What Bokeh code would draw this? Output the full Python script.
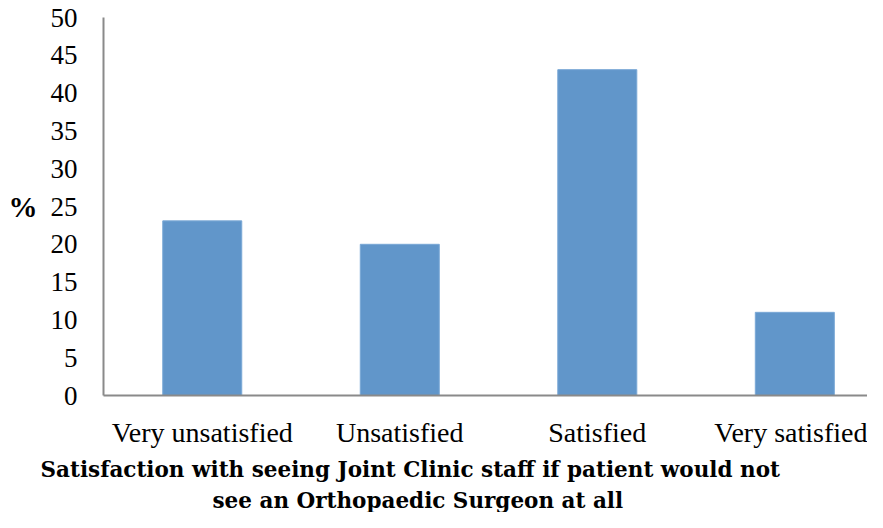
from bokeh.plotting import figure
from bokeh.models import Range1d, FixedTicker, ColumnDataSource, Title
from bokeh.embed import file_html
from bokeh.resources import INLINE

categories = ["Very unsatisfied", "Unsatisfied", "Satisfied", "Very satisfied"]
percent = [23.1, 20.0, 43.1, 11.0]
y_ticks = [0, 5, 10, 15, 20, 25, 30, 35, 40, 45, 50]
title_lines = ["Satisfaction with seeing Joint Clinic staff if patient would not",
               "see an Orthopaedic Surgeon at all"]
y_label = "%"

positions = [i + 0.5 for i in range(len(categories))]
src = ColumnDataSource(dict(x=positions, top=percent, cat=categories))

p = figure(width=867, height=512, output_backend="svg", toolbar_location=None,
           x_range=Range1d(0, 3.868), y_range=Range1d(0, 50),
           min_border_left=103, min_border_right=0, min_border_top=17, min_border_bottom=116)
p.outline_line_color = None
p.xgrid.visible = False
p.ygrid.visible = False

p.vbar(x="x", top="top", width=0.40, bottom=0, source=src,
       fill_color="#6196CA", line_color="#7AA8D6", line_width=1)

FONT = "Liberation Serif"
for ax in (p.xaxis[0], p.yaxis[0]):
    ax.axis_line_color = "#8A8A8A"
    ax.axis_line_width = 2
    ax.major_tick_line_color = None
    ax.minor_tick_line_color = None
    ax.major_label_text_font = FONT
    ax.major_label_text_color = "black"

p.xaxis[0].major_label_text_font_size = "28px"
p.yaxis[0].major_label_text_font_size = "27px"
p.xaxis[0].ticker = FixedTicker(ticks=positions)
p.xaxis[0].major_label_overrides = {pos: c for pos, c in zip(positions, categories)}
p.xaxis[0].major_label_standoff = 15
p.yaxis[0].ticker = FixedTicker(ticks=y_ticks)
p.yaxis[0].major_label_standoff = 20

yax = p.yaxis[0]
yax.axis_label = y_label
yax.axis_label_text_font = FONT
yax.axis_label_text_font_style = "bold"
yax.axis_label_text_font_size = "29px"
yax.axis_label_text_color = "black"
yax.axis_label_standoff = 10
try:
    yax.axis_label_orientation = "horizontal"
except Exception:
    pass

TFONT = "DejaVu Serif"
offsets = [-63, 109]
standoffs = [8, 0]
for ln, off, so in zip(title_lines, offsets, standoffs):
    p.add_layout(Title(text=ln, text_font=TFONT, text_font_style="bold", text_font_size="21.5px",
                       text_color="black", align="left", offset=off, standoff=so), "below")

open("out.html", "w").write(file_html(p, INLINE))
